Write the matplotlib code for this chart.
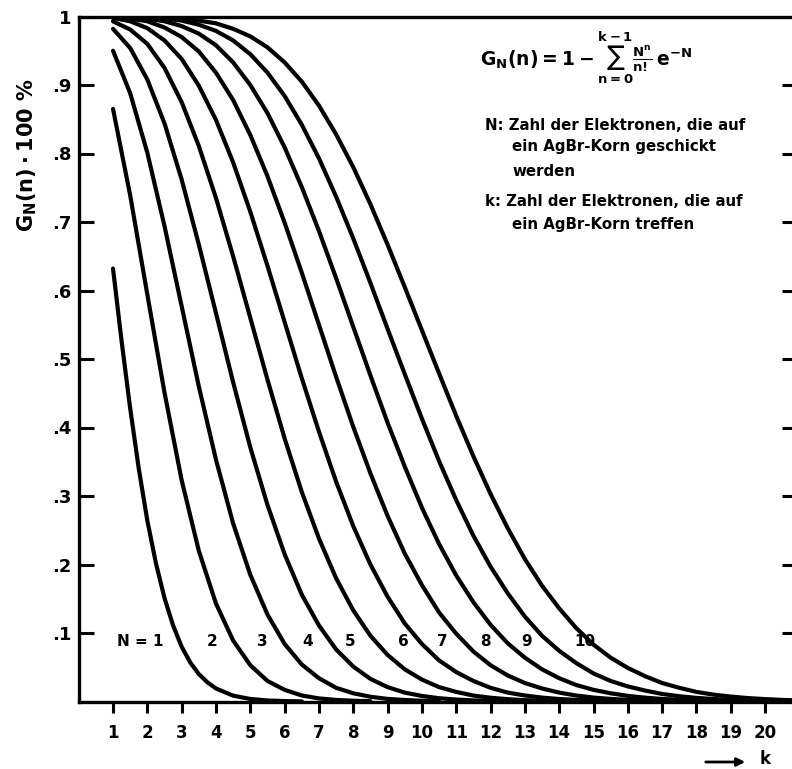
#!/usr/bin/env python3
"""
Schwärzungswahrscheinlichkeit eines AgBr-Korns
G_N(k) für N = 1 ... 10 (Werte aus der Vorlage abgelesen)
"""

import numpy as np
import matplotlib
matplotlib.use('Agg')
import matplotlib.pyplot as plt

k_steps = np.arange(1.0, 21.5, 0.5)
k_n1 = [1, 1.25, 1.5, 1.75, 2, 2.25, 2.5, 2.75, 3, 3.25, 3.5, 3.75, 4,
        4.5, 5, 5.5, 6, 6.5]

g_n1 = [0.632, 0.526, 0.428, 0.340, 0.264, 0.202, 0.151, 0.111, 0.080, 0.057,
        0.040, 0.028, 0.019, 0.0085, 0.0037, 0.0015, 0.0006, 0.0002]
g_n2 = [0.865, 0.739, 0.594, 0.451, 0.323, 0.220, 0.143, 0.089, 0.053, 0.030,
        0.017, 0.0088, 0.0045, 0.0023, 0.0011, 0.0005]
g_n3 = [0.950, 0.888, 0.801, 0.694, 0.577, 0.460, 0.353, 0.260, 0.185, 0.127,
        0.084, 0.054, 0.034, 0.020, 0.012, 0.0069, 0.0038, 0.0022, 0.0011, 0.0007]
g_n4 = [0.982, 0.954, 0.908, 0.844, 0.762, 0.667, 0.567, 0.466, 0.371, 0.287,
        0.215, 0.156, 0.111, 0.076, 0.051, 0.033, 0.021, 0.013, 0.0081, 0.0048,
        0.0028, 0.0016, 0.0009, 0.0005]
g_n5 = [0.993, 0.981, 0.960, 0.925, 0.875, 0.811, 0.735, 0.650, 0.560, 0.470,
        0.384, 0.306, 0.238, 0.180, 0.133, 0.096, 0.068, 0.047, 0.032, 0.021,
        0.014, 0.0087, 0.0055, 0.0034, 0.0020, 0.0012, 0.0007, 0.0004, 0.0002]
g_n6 = [0.998, 0.993, 0.983, 0.965, 0.938, 0.899, 0.849, 0.787, 0.715, 0.636,
        0.554, 0.472, 0.394, 0.321, 0.256, 0.200, 0.153, 0.114, 0.084, 0.060,
        0.043, 0.030, 0.020, 0.013, 0.0088, 0.0057, 0.0036, 0.0023, 0.0014, 0.0008,
        0.0005, 0.0003, 0.0002]
g_n7 = [0.999, 0.997, 0.993, 0.984, 0.970, 0.949, 0.918, 0.878, 0.827, 0.767,
        0.699, 0.626, 0.550, 0.474, 0.401, 0.333, 0.271, 0.216, 0.170, 0.130,
        0.099, 0.073, 0.053, 0.038, 0.027, 0.019, 0.013, 0.0087, 0.0057, 0.0038,
        0.0024, 0.0016, 0.0010, 0.0006, 0.0004, 0.0003, 0.0001]
g_n8 = [1.000, 0.999, 0.997, 0.993, 0.986, 0.975, 0.958, 0.933, 0.900, 0.859,
        0.809, 0.751, 0.687, 0.618, 0.547, 0.476, 0.407, 0.343, 0.283, 0.230,
        0.184, 0.145, 0.112, 0.085, 0.064, 0.047, 0.034, 0.024, 0.017, 0.012,
        0.0082, 0.0056, 0.0037, 0.0025, 0.0016, 0.0011, 0.0006, 0.0004, 0.0003, 0.0002]
g_n9 = [1.000, 1.000, 0.999, 0.997, 0.994, 0.988, 0.979, 0.965, 0.945, 0.918,
        0.884, 0.842, 0.793, 0.737, 0.676, 0.611, 0.544, 0.478, 0.413, 0.351,
        0.294, 0.242, 0.197, 0.158, 0.124, 0.096, 0.074, 0.056, 0.041, 0.030,
        0.022, 0.016, 0.011, 0.0077, 0.0053, 0.0036, 0.0024, 0.0016, 0.0011, 0.0007]
g_n10 = [1.000, 1.000, 1.000, 0.999, 0.997, 0.994, 0.990, 0.982, 0.971, 0.955,
         0.933, 0.905, 0.870, 0.828, 0.780, 0.726, 0.667, 0.605, 0.542, 0.479,
         0.417, 0.358, 0.303, 0.253, 0.208, 0.169, 0.136, 0.107, 0.083, 0.064,
         0.049, 0.037, 0.027, 0.020, 0.014, 0.010, 0.0072, 0.0050, 0.0035, 0.0023,
         0.0016]

curves = [(k_n1, g_n1)] + [(k_steps[:len(g)], g) for g in
                           [g_n2, g_n3, g_n4, g_n5, g_n6, g_n7, g_n8, g_n9, g_n10]]

# Beschriftung der Kurven (Position in k, G)
curve_labels = ['N = 1', '2', '3', '4', '5', '6', '7', '8', '9', '10']
label_k = [1.78, 3.88, 5.36, 6.68, 7.9, 9.45, 10.6, 11.84, 13.06, 14.75]
label_g = [0.088] * 10

x_ticks = list(range(1, 21))
y_ticks = [0.1, 0.2, 0.3, 0.4, 0.5, 0.6, 0.7, 0.8, 0.9, 1.0]
y_ticklabels = ['.1', '.2', '.3', '.4', '.5', '.6', '.7', '.8', '.9', '1']

plt.rcParams['font.family'] = ['DejaVu Sans']
plt.rcParams['font.weight'] = 'bold'
plt.rcParams['mathtext.default'] = 'bf'

fig = plt.figure(figsize=(7.92, 7.69), dpi=100)
ax = fig.add_axes([78.7 / 792, 67.5 / 769, 713.3 / 792, 685 / 769])

for kx, vals in curves:
    ax.plot(kx, vals, color='black', linewidth=3.0,
            solid_capstyle='round', solid_joinstyle='round')

for txt, kx, gy in zip(curve_labels, label_k, label_g):
    ax.text(kx, gy, txt, fontsize=11, fontweight='bold', ha='center', va='center')

ax.set_xlim(0, 713.3 / 34.32)
ax.set_ylim(0, 1.0)

for side in ['left', 'bottom', 'top']:
    ax.spines[side].set_linewidth(2.4)
ax.spines['right'].set_visible(False)

ax.set_xticks(x_ticks)
ax.set_xticklabels([str(v) for v in x_ticks], fontsize=12, fontweight='bold')
ax.tick_params(axis='x', direction='out', length=8, width=2.2, pad=8)

ax.set_yticks(y_ticks)
ax.set_yticklabels(y_ticklabels, fontsize=13, fontweight='bold')
ax.tick_params(axis='y', direction='in', length=11, width=2.2, pad=5)

# kurze Striche am rechten Rand
ax_r = ax.twinx()
ax_r.set_ylim(0, 1.0)
ax_r.set_yticks(y_ticks[:-1])
ax_r.set_yticklabels([])
ax_r.tick_params(axis='y', direction='in', length=7, width=2.2)
for side in ['left', 'bottom', 'top', 'right']:
    ax_r.spines[side].set_visible(False)

fig.text(27 / 792, 1 - 155 / 769, r'$G_N(n)\cdot 100\ \%$', rotation=90,
         fontsize=15, ha='center', va='center')

fig.text(480 / 792, 1 - 58 / 769,
         r'$G_N(n) = 1 - \sum_{n=0}^{k-1}\frac{N^n}{n!}\,e^{-N}$',
         fontsize=13.5, ha='left', va='center')

desc_lines = [
    (485, 125, 'N: Zahl der Elektronen, die auf'),
    (512, 147, 'ein AgBr-Korn geschickt'),
    (512, 172, 'werden'),
    (485, 202, 'k: Zahl der Elektronen, die auf'),
    (512, 225, 'ein AgBr-Korn treffen'),
]
for px, py, txt in desc_lines:
    fig.text(px / 792, 1 - py / 769, txt, fontsize=10.8, fontweight='bold',
             ha='left', va='center')

# Pfeil für k
fig.patches.append(matplotlib.patches.FancyArrowPatch(
    (703 / 792, 1 - 762 / 769), (748 / 792, 1 - 762 / 769),
    transform=fig.transFigure, arrowstyle='-|>', mutation_scale=12,
    linewidth=2.0, color='black'))
fig.text(765 / 792, 1 - 759 / 769, 'k', fontsize=12, fontweight='bold',
         ha='center', va='center')

fig.savefig('out.png', dpi=100, facecolor='white')
